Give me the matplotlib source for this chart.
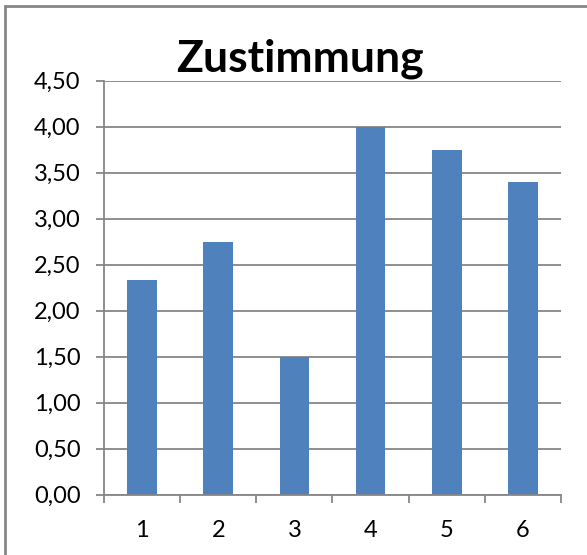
import matplotlib

matplotlib.use("Agg")
from matplotlib import pyplot as plt
from matplotlib.patches import Rectangle
from matplotlib.ticker import FuncFormatter, FixedLocator
import numpy as np

categories = ["1", "2", "3", "4", "5", "6"]
values = [2.33, 2.75, 1.50, 4.00, 3.75, 3.40]
title = "Zustimmung"

bar_color = "#4F81BD"
grid_color = "#868686"

plt.rcParams["font.family"] = ["Lato", "DejaVu Sans"]

fig = plt.figure(figsize=(5.87, 5.55), dpi=100)
ax = fig.add_axes([104 / 587, 1 - 494.7 / 555, (561 - 104) / 587, (494.7 - 80.7) / 555])

x = np.arange(len(categories))
ax.bar(x, values, width=0.39, color=bar_color, zorder=3)

ax.set_xlim(-0.5, len(categories) - 0.5)
ax.set_ylim(0, 4.5)
ax.set_yticks(np.arange(0, 4.51, 0.5))
ax.yaxis.set_major_formatter(FuncFormatter(lambda v, p: ("%.2f" % v).replace(".", ",")))
ax.grid(axis="y", color=grid_color, linewidth=1.3, zorder=0)

ax.set_xticks(x)
ax.set_xticklabels(categories)
ax.xaxis.set_minor_locator(FixedLocator(np.arange(-0.5, len(categories), 1.0)))
ax.tick_params(axis="x", which="major", length=0, pad=18.5, labelsize=17)
ax.tick_params(axis="x", which="minor", length=6, width=1.3, color=grid_color)
ax.tick_params(axis="y", length=6, width=1.3, color=grid_color, pad=11, labelsize=17)

for side in ["top", "right"]:
    ax.spines[side].set_visible(False)
for side in ["left", "bottom"]:
    ax.spines[side].set_color(grid_color)
    ax.spines[side].set_linewidth(1.3)
    ax.spines[side].set_zorder(4)

fig.text(300 / 587, 1 - 71.7 / 555, title, ha="center", va="baseline",
         fontsize=32, fontweight="bold")

fig.patches.append(Rectangle((5 / 587, -0.1), 1.2, 1 - 5.7 / 555 + 0.1,
                             transform=fig.transFigure, fill=False,
                             edgecolor=grid_color, linewidth=2))

fig.savefig("out.png", dpi=100)
